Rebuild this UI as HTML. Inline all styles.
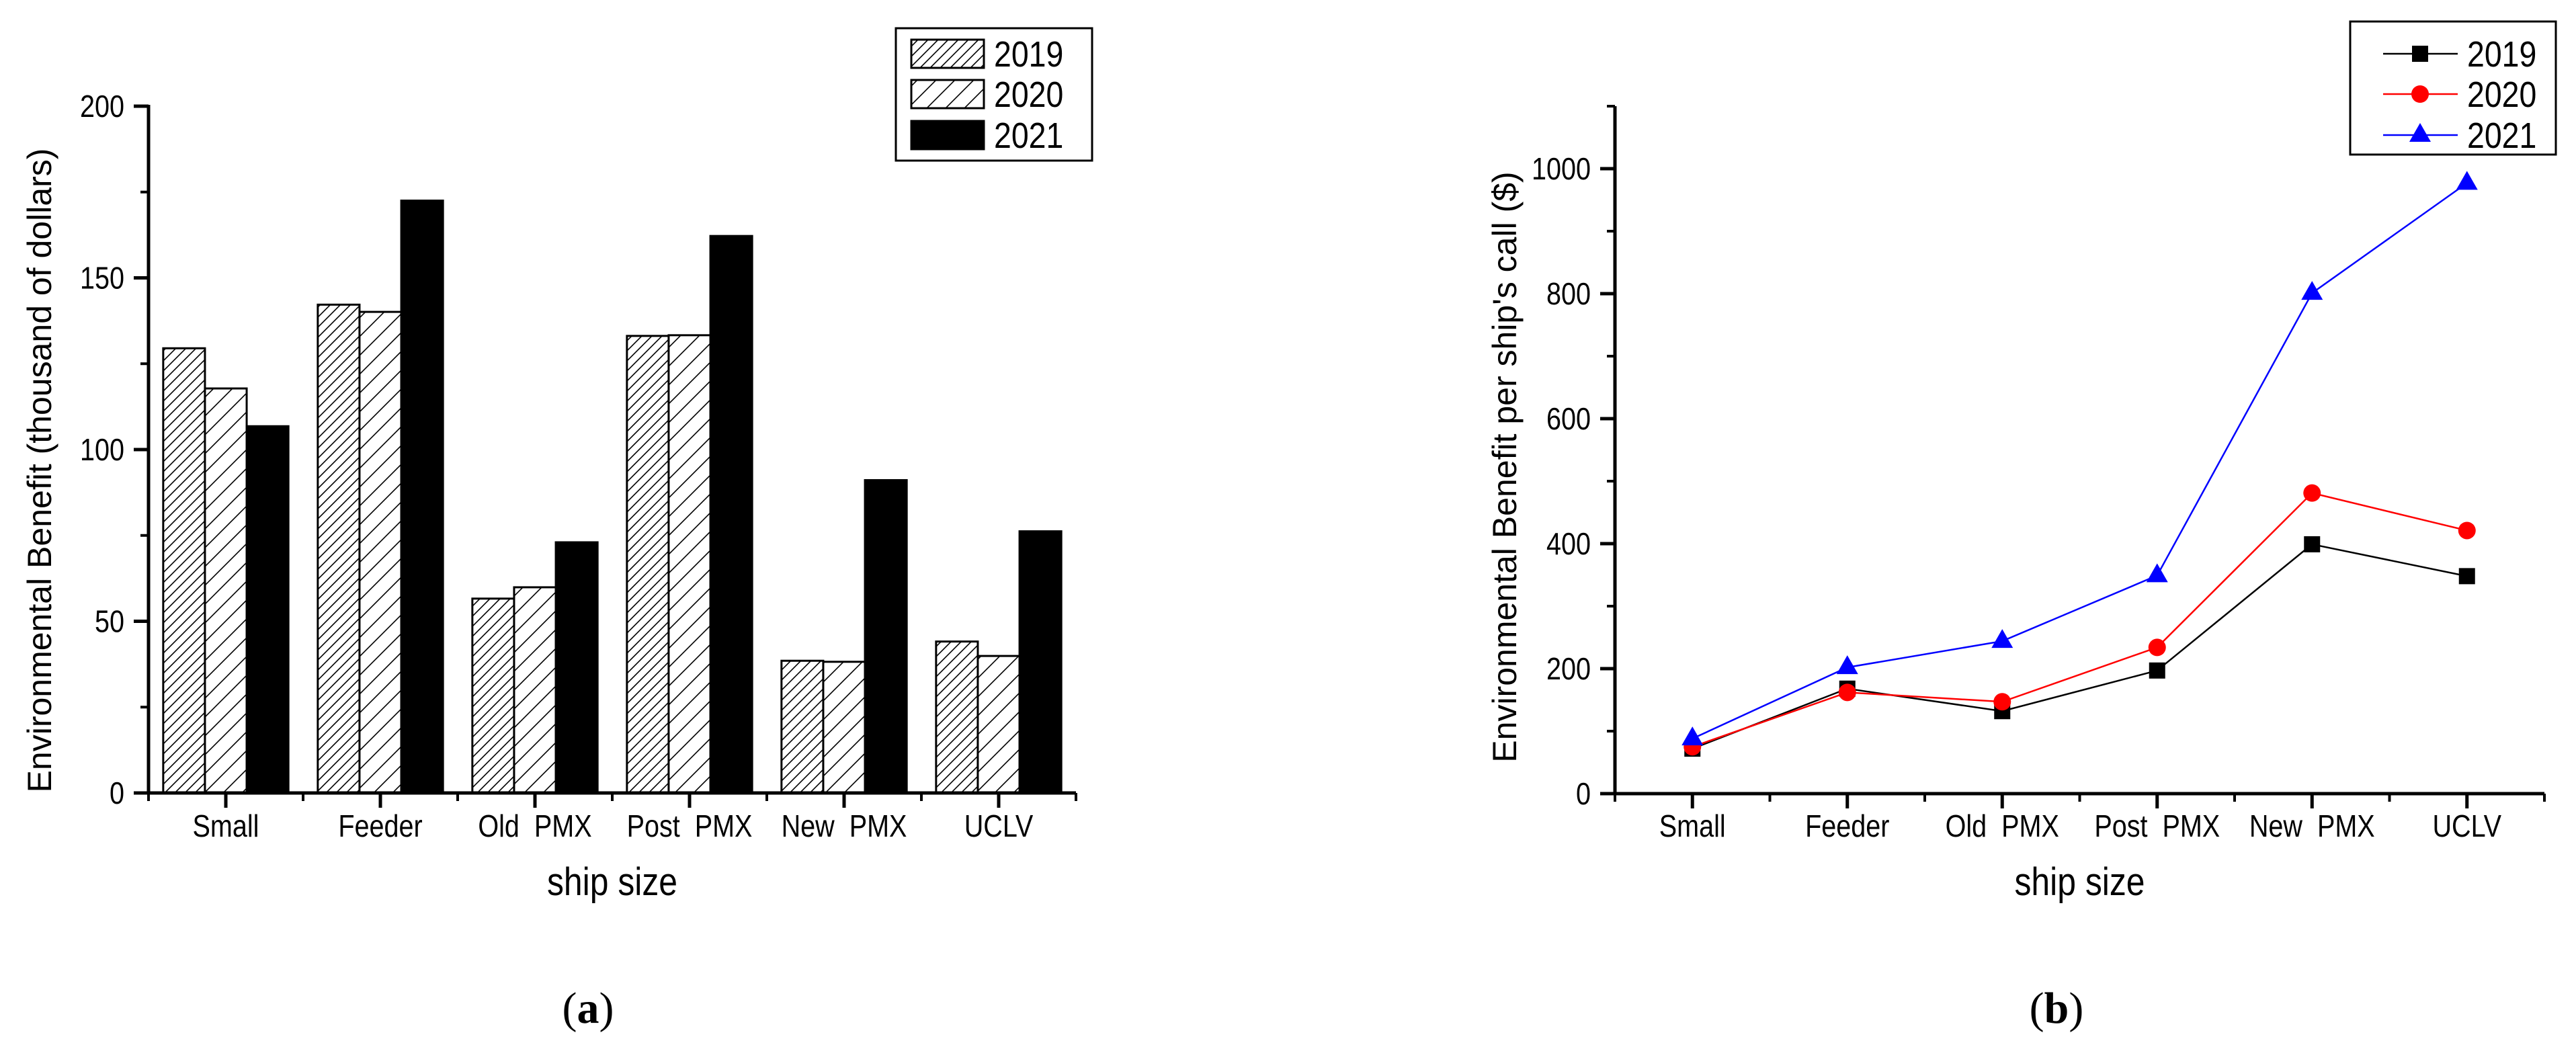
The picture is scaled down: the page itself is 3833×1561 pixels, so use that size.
<!DOCTYPE html>
<html><head><meta charset="utf-8"><style>
html,body{margin:0;padding:0;background:#fff;}
svg{display:block;font-family:"Liberation Sans",Arial,sans-serif;}
text{white-space:pre;}
</style></head><body>
<svg id="fig" width="3833" height="1561" viewBox="0 0 3833 1561" xmlns="http://www.w3.org/2000/svg">
<defs>
<pattern id="hatchDense" patternUnits="userSpaceOnUse" width="15" height="15">
<rect width="15" height="15" fill="#fff"/>
<path d="M-4,19 L19,-4 M-4,4 L4,-4 M11,19 L19,11" stroke="#000" stroke-width="1.6"/>
</pattern>
<pattern id="hatchSparse" patternUnits="userSpaceOnUse" width="28" height="28">
<rect width="28" height="28" fill="#fff"/>
<path d="M-4,32 L32,-4 M-4,4 L4,-4 M24,32 L32,24" stroke="#000" stroke-width="1.6"/>
</pattern>
</defs>
<g id="chartA"></g>
<g id="chartB"></g>
<text x="875" y="1522" text-anchor="middle" font-family="Liberation Serif, serif" font-size="66">(<tspan font-weight="bold">a</tspan>)</text>
<text x="3060" y="1522" text-anchor="middle" font-family="Liberation Serif, serif" font-size="66">(<tspan font-weight="bold">b</tspan>)</text>
</svg>
<script>
const categories = ["Small","Feeder","Old  PMX","Post  PMX","New  PMX","UCLV"];
const years = ["2019","2020","2021"];
const barVals2019 = [129.5,142.2,56.6,133.1,38.5,44.1];
const barVals2020 = [117.8,140.1,59.9,133.3,38.2,39.9];
const barVals2021 = [106.8,172.5,73.0,162.2,91.1,76.2];
const barTicks = [0,50,100,150,200];
const lineVals2019 = [72,168,132,197,399,348];
const lineVals2020 = [75,162,147,234,481,421];
const lineVals2021 = [88,202,244,349,801,977];
const lineTicks = [0,200,400,600,800,1000];

const NS="http://www.w3.org/2000/svg";
const SX=0.86;
function mk(parent,tag,attrs,text){const e=document.createElementNS(NS,tag);for(const k in attrs)e.setAttribute(k,attrs[k]);if(text!==undefined)e.textContent=text;parent.appendChild(e);return e;}
function ntext(parent,x,y,anchor,size,str){
 return mk(parent,'text',{x:0,y:0,'text-anchor':anchor,'font-size':size,transform:`translate(${x},${y}) scale(${SX},1)`},str);
}

/* ---------- Chart A ---------- */
(function(){
const g=document.getElementById('chartA');
const x0=221,x1=1601,yb=1180,yt=158,vmax=200;
const step=(x1-x0)/categories.length;
const xc=i=>x0+step*(i+0.5);
const y=v=>yb-(v/vmax)*(yb-yt);
const bw=step*0.27;
const series=[barVals2019,barVals2020,barVals2021];
const fills=["url(#hatchDense)","url(#hatchSparse)","#000"];
series.forEach((vals,s)=>{
 vals.forEach((v,i)=>{
  const r=mk(g,'rect',{x:xc(i)+(s-1.5)*bw,y:y(v),width:bw,height:yb-y(v),fill:fills[s],stroke:'#000','stroke-width':3});
  
  
 });
});
const ya=mk(g,'line',{x1:x0,y1:yt-2,x2:x0,y2:yb+2,stroke:'#000','stroke-width':5});


const xa=mk(g,'line',{x1:x0-2,y1:yb,x2:x1,y2:yb,stroke:'#000','stroke-width':5});


barTicks.forEach(t=>{
 mk(g,'line',{x1:x0-22,y1:y(t),x2:x0,y2:y(t),stroke:'#000','stroke-width':5});
 const tl=ntext(g,x0-36,y(t)+16,'end',46,String(t));
 
 
});
for(let t=25;t<vmax;t+=50){mk(g,'line',{x1:x0-12,y1:y(t),x2:x0,y2:y(t),stroke:'#000','stroke-width':4});}
for(let i=0;i<=categories.length;i++){mk(g,'line',{x1:x0+step*i,y1:yb,x2:x0+step*i,y2:yb+12,stroke:'#000','stroke-width':4});}
categories.forEach((c,i)=>{
 mk(g,'line',{x1:xc(i),y1:yb,x2:xc(i),y2:yb+22,stroke:'#000','stroke-width':5});
 const tl=ntext(g,xc(i),1245,'middle',46,c);
 
 
});
const xt=ntext(g,(x0+x1)/2,1332,'middle',58,'ship size');


const yT=mk(g,'text',{x:0,y:0,'text-anchor':'middle','font-size':50,transform:'translate(76,700) rotate(-90)'},'Environmental Benefit (thousand of dollars)');


const lg=mk(g,'g',{});


mk(lg,'rect',{x:1333,y:42,width:292,height:197,fill:'#fff',stroke:'#000','stroke-width':3});
const rows=[80,140,201];
years.forEach((yr,s)=>{
 const e=mk(lg,'g',{});
 
 
 mk(e,'rect',{x:1356,y:rows[s]-21,width:108,height:42,fill:fills[s],stroke:'#000','stroke-width':3});
 ntext(e,1479,rows[s]+19,'start',54,yr);
});
})();

/* ---------- Chart B ---------- */
(function(){
const g=document.getElementById('chartB');
const x0=2403,x1=3786,yb=1181,vmax=1100;
const per=(1181-251)/1000;
const step=(x1-x0)/categories.length;
const xc=i=>x0+step*(i+0.5);
const y=v=>yb-v*per;
const yt=y(vmax);
const ya=mk(g,'line',{x1:x0,y1:yt,x2:x0,y2:yb+2,stroke:'#000','stroke-width':5});


mk(g,'line',{x1:x0-12,y1:yt,x2:x0,y2:yt,stroke:'#000','stroke-width':4});
const xa=mk(g,'line',{x1:x0-2,y1:yb,x2:x1,y2:yb,stroke:'#000','stroke-width':5});


lineTicks.forEach(t=>{
 mk(g,'line',{x1:x0-22,y1:y(t),x2:x0,y2:y(t),stroke:'#000','stroke-width':5});
 const tl=ntext(g,x0-36,y(t)+16,'end',46,String(t));
 
 
});
for(let t=100;t<vmax;t+=200){mk(g,'line',{x1:x0-12,y1:y(t),x2:x0,y2:y(t),stroke:'#000','stroke-width':4});}
for(let i=0;i<=categories.length;i++){mk(g,'line',{x1:x0+step*i,y1:yb,x2:x0+step*i,y2:yb+12,stroke:'#000','stroke-width':4});}
categories.forEach((c,i)=>{
 mk(g,'line',{x1:xc(i),y1:yb,x2:xc(i),y2:yb+22,stroke:'#000','stroke-width':5});
 const tl=ntext(g,xc(i),1245,'middle',46,c);
 
 
});
const xt=ntext(g,(x0+x1)/2,1332,'middle',58,'ship size');


const yT=mk(g,'text',{x:0,y:0,'text-anchor':'middle','font-size':50,transform:'translate(2256,695) rotate(-90)'},"Environmental Benefit per ship's call ($)");



const series=[lineVals2019,lineVals2020,lineVals2021];
const colors=['#000','#f00','#00f'];
function marker(parent,s,cx,cy){
 if(s===0) return mk(parent,'rect',{x:cx-12,y:cy-12,width:24,height:24,fill:colors[s]});
 if(s===1) return mk(parent,'circle',{cx:cx,cy:cy,r:13,fill:colors[s]});
 return mk(parent,'polygon',{points:`${cx},${cy-18} ${cx-16},${cy+10} ${cx+16},${cy+10}`,fill:colors[s]});
}
series.forEach((vals,s)=>{
 const pts=vals.map((v,i)=>xc(i)+','+y(v)).join(' ');
 const pl=mk(g,'polyline',{points:pts,fill:'none',stroke:colors[s],'stroke-width':2.5});
 
 
});
series.forEach((vals,s)=>{
 vals.forEach((v,i)=>{
  const m=marker(g,s,xc(i),y(v));
  
  
 });
});
const lg=mk(g,'g',{});


mk(lg,'rect',{x:3497,y:32,width:306,height:198,fill:'#fff',stroke:'#000','stroke-width':3});
const rows=[80,140,201];
years.forEach((yr,s)=>{
 const e=mk(lg,'g',{});
 
 
 mk(e,'line',{x1:3546,y1:rows[s],x2:3657,y2:rows[s],stroke:colors[s],'stroke-width':2.5});
 marker(e,s,3601,rows[s]);
 ntext(e,3671,rows[s]+19,'start',54,yr);
});
})();
</script>
</body></html>
